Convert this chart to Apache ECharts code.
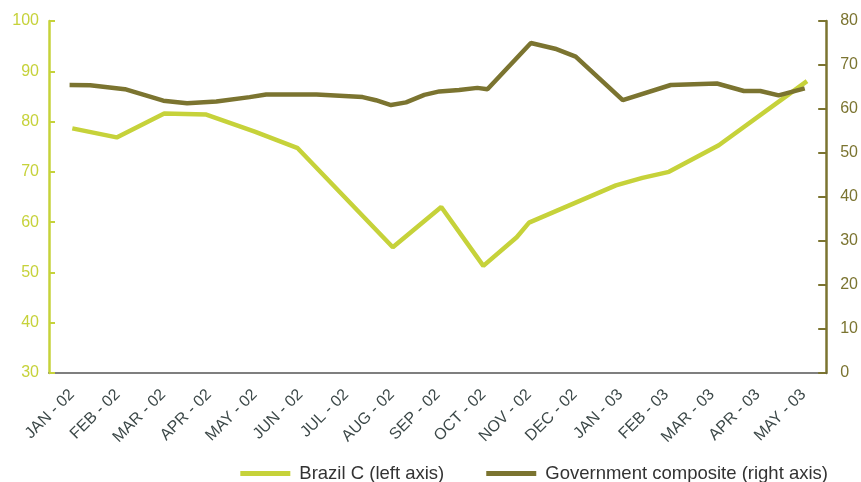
<!DOCTYPE html>
<html>
<head>
<meta charset="utf-8">
<script src="https://cdn.jsdelivr.net/npm/echarts@6/dist/echarts.min.js"></script>
<style>
html,body{margin:0;padding:0;background:#fff;}
#chart{width:861px;height:482px;}
</style>
</head>
<body>
<div id="chart"></div>
<script>
const months = ['JAN - 02','FEB - 02','MAR - 02','APR - 02','MAY - 02','JUN - 02','JUL - 02','AUG - 02','SEP - 02','OCT - 02','NOV - 02','DEC - 02','JAN - 03','FEB - 03','MAR - 03','APR - 03','MAY - 03'];
const leftTicks = {min: 30, max: 100, step: 10};
const rightTicks = {min: 0, max: 80, step: 10};

// positions in month units (0 = JAN-02)
const brazilX = [0.01, 0.98, 2.02, 2.94, 4.0, 4.94, 7.02, 8.08, 9.0, 9.73, 10.0, 11.9, 12.48, 13.06, 14.15, 16.08];
const brazilY = [78.65, 76.85, 81.6, 81.4, 78.0, 74.7, 55.0, 63.0, 51.3, 57.0, 59.9, 67.3, 68.8, 70.0, 75.3, 88.05];

const govX = [-0.05, 0.40, 1.16, 2.0, 2.52, 3.16, 3.89, 4.25, 5.35, 6.36, 6.65, 6.98, 7.31, 7.71, 8.04, 8.47, 8.87, 9.09, 10.04, 10.57, 11.02, 12.05, 13.1, 14.11, 14.7, 15.06, 15.46, 16.03];
const govY = [65.45, 65.4, 64.5, 61.9, 61.3, 61.7, 62.7, 63.3, 63.3, 62.7, 62.0, 60.9, 61.5, 63.2, 64.0, 64.3, 64.8, 64.5, 75.0, 73.7, 71.9, 62.0, 65.45, 65.8, 64.1, 64.1, 63.1, 64.7];

const GREEN = '#c6d23a';
const OLIVE = '#7b7430';
const FONT = '"Liberation Sans", Arial, Helvetica, sans-serif';

const chart = echarts.init(document.getElementById('chart'));
chart.setOption({
  animation: false,
  textStyle: {fontFamily: FONT},
  grid: {left: 49, right: 33, top: 21, bottom: 109, containLabel: false},
  legend: {
    bottom: -6,
    right: 28,
    icon: 'rect',
    itemWidth: 50,
    itemHeight: 5,
    itemGap: 42,
    textStyle: {fontFamily: FONT, fontSize: 18.5, color: '#333', padding: [0, 0, 0, 4]},
    data: ['Brazil C (left axis)', 'Government composite (right axis)']
  },
  xAxis: [
    {
      type: 'category',
      data: months,
      boundaryGap: true,
      axisLine: {onZero: false, lineStyle: {color: '#555', width: 1.5}},
      axisTick: {inside: true, length: 7, lineStyle: {color: '#555', width: 1.5}},
      axisLabel: {rotate: 45, fontSize: 16, color: '#3c4848', margin: 19, interval: 0, fontFamily: FONT},
      splitLine: {show: false}
    },
    {
      type: 'value',
      min: -0.5,
      max: 16.5,
      show: false
    }
  ],
  yAxis: [
    {
      type: 'value',
      position: 'left',
      min: leftTicks.min, max: leftTicks.max, interval: leftTicks.step,
      axisLine: {show: true, onZero: false, lineStyle: {color: GREEN, width: 2.5}},
      axisTick: {show: true, inside: true, length: 6, lineStyle: {color: GREEN, width: 2}},
      axisLabel: {color: GREEN, fontSize: 16, margin: 10, padding: [0, 0, 8, 0], fontFamily: FONT},
      splitLine: {show: false}
    },
    {
      type: 'value',
      position: 'right',
      min: rightTicks.min, max: rightTicks.max, interval: rightTicks.step,
      axisLine: {show: true, onZero: false, lineStyle: {color: OLIVE, width: 2.5}},
      axisTick: {show: true, inside: true, length: 8, lineStyle: {color: OLIVE, width: 2}},
      axisLabel: {color: OLIVE, fontSize: 16, margin: 14, padding: [0, 0, 6, 0], fontFamily: FONT},
      splitLine: {show: false}
    }
  ],
  series: [
    {
      name: 'Brazil C (left axis)',
      type: 'line',
      xAxisIndex: 1,
      yAxisIndex: 0,
      showSymbol: false,
      symbol: 'none',
      lineStyle: {color: GREEN, width: 4.5},
      itemStyle: {color: GREEN},
      data: brazilX.map((x, i) => [x, brazilY[i]])
    },
    {
      name: 'Government composite (right axis)',
      type: 'line',
      xAxisIndex: 1,
      yAxisIndex: 1,
      showSymbol: false,
      symbol: 'none',
      lineStyle: {color: OLIVE, width: 4.5},
      itemStyle: {color: OLIVE},
      data: govX.map((x, i) => [x, govY[i]])
    }
  ]
});
</script>
</body>
</html>
